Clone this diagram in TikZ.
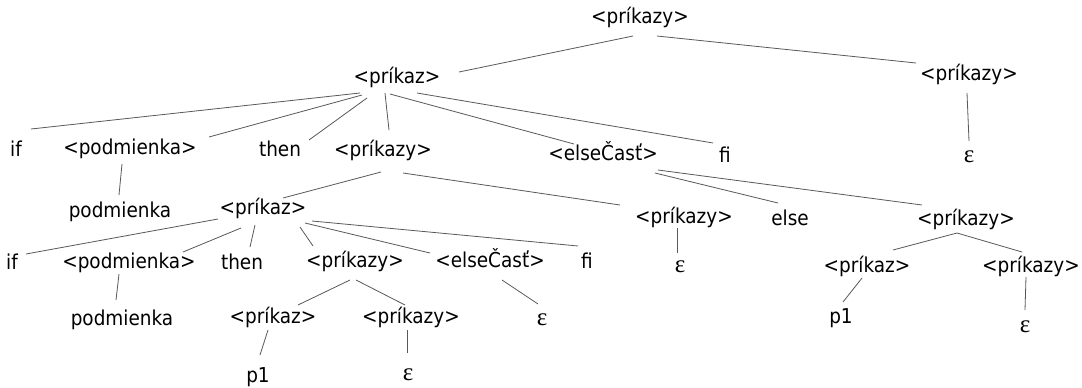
\documentclass[tikz,border=0pt]{standalone}
\usepackage{fontspec}
\setmainfont{DejaVu Sans Condensed}
\newfontfamily\epsfont{Liberation Serif}
\tikzset{
  lbl/.style={anchor=base, inner sep=0pt, text=black, font=\fontsize{20.5bp}{24bp}\selectfont},
  eps/.style={anchor=base, inner sep=0pt, text=black, font=\epsfont\fontsize{25bp}{28bp}\selectfont},
  conline/.style={draw=black!65, line width=0.8bp},
}
\newcommand\conn[4]{\draw[conline] ([shift={(#2)}]#1.base) -- ([shift={(#4)}]#3.base);}
\begin{document}
\begin{tikzpicture}[x=1bp,y=-1bp]
\fill[white] (0,0) rectangle (1082,387);
\useasboundingbox (0,0) rectangle (1082,387);
% level 0
\node[lbl] (R) at (640,23.5) {<príkazy>};
% level 1
\node[lbl] (A) at (397,83.5) {<príkaz>};
\node[lbl] (B) at (969,80.5) {<príkazy>};
% level 2
\node[lbl] (if1) at (16,156.8) {if};
\node[lbl] (podm1) at (130,154.5) {<podmienka>};
\node[lbl] (then1) at (280,156.8) {then};
\node[lbl] (pz1) at (383,156.5) {<príkazy>};
\node[lbl] (else1) at (603,160.5) {<elseČasť>};
\node[lbl] (fi1) at (725,162.8) {fi};
\node[eps] (epsB) at (969,162.7) {ε};
% level 3
\node[lbl] (podmA) at (120,217.5) {podmienka};
\node[lbl] (pk2) at (263,214.5) {<príkaz>};
\node[lbl] (pz3) at (684,223.5) {<príkazy>};
\node[lbl] (elseT) at (790,225.8) {else};
\node[lbl] (pz4) at (966,225.5) {<príkazy>};
% level 4
\node[lbl] (if2) at (12,269.8) {if};
\node[lbl] (podm2) at (129,268.5) {<podmienka>};
\node[lbl] (then2) at (242,269.8) {then};
\node[lbl] (pz5) at (355,267.5) {<príkazy>};
\node[lbl] (else2) at (490,267.5) {<elseČasť>};
\node[lbl] (fi2) at (587,268.8) {fi};
\node[eps] (epsC) at (680,272.7) {ε};
\node[lbl] (pk5) at (867,272.5) {<príkaz>};
\node[lbl] (pz6) at (1031,272.5) {<príkazy>};
% level 5
\node[lbl] (podmB) at (122,325.5) {podmienka};
\node[lbl] (pk6) at (273,323.5) {<príkaz>};
\node[lbl] (pz7) at (411,323.5) {<príkazy>};
\node[eps] (epsD) at (542,325.7) {ε};
\node[lbl] (p1a) at (841,323.5) {p1};
\node[eps] (epsE) at (1025,332.7) {ε};
% level 6
\node[lbl] (p1b) at (258,382.5) {p1};
\node[eps] (epsF) at (408,380.7) {ε};
% connectors
\conn{R}{-7,12.5}{A}{62,-11.5}
\conn{R}{17,12.5}{B}{-53,-17.5}
\conn{A}{-37,9.5}{if1}{15,-27.8}
\conn{A}{-35,11.5}{podm1}{79,-17.5}
\conn{A}{-30,14.5}{then1}{29,-16.8}
\conn{A}{-12,9.5}{pz1}{6,-26.5}
\conn{A}{-7,10.5}{else1}{-29,-16.5}
\conn{A}{20,9.5}{fi1}{-12,-19.8}
\conn{B}{-2,12.5}{epsB}{0,-21.7}
\conn{podm1}{-8,9.5}{podmA}{-1,-22.5}
\conn{pz1}{-2,15.5}{pk2}{20,-16.5}
\conn{pz1}{20,16.5}{pz3}{-64,-18.5}
\conn{else1}{52,12.5}{elseT}{-12,-22.8}
\conn{else1}{55,9.5}{pz4}{-44,-20.5}
\conn{pz3}{-7,4.5}{epsC}{-3,-19.7}
\conn{pk2}{-45,4.5}{if2}{14,-15.8}
\conn{pk2}{-22,13.5}{podm2}{54,-16.5}
\conn{pk2}{-8,10.5}{then2}{8,-22.8}
\conn{pk2}{37,12.5}{pz5}{-42,-21.5}
\conn{pk2}{42,8.5}{else2}{-60,-14.5}
\conn{pk2}{49,6.5}{fi2}{-9,-22.8}
\conn{podm2}{-10,5.5}{podmB}{-6,-25.5}
\conn{pz5}{-5,12.5}{pk6}{25,-18.5}
\conn{pz5}{1,12.5}{pz7}{-6,-18.5}
\conn{else2}{12,12.5}{epsD}{-4,-21.7}
\conn{pk6}{-5,6.5}{p1b}{2,-27.5}
\conn{pz7}{-4,6.5}{epsF}{-1,-27.7}
\conn{pz4}{-9,7.5}{pk5}{26,-22.5}
\conn{pz4}{-9,7.5}{pz6}{-9,-20.5}
\conn{pk5}{-5,5.5}{p1a}{2,-21.5}
\conn{pz6}{-5,4.5}{epsE}{0,-22.7}
\end{tikzpicture}
\end{document}
